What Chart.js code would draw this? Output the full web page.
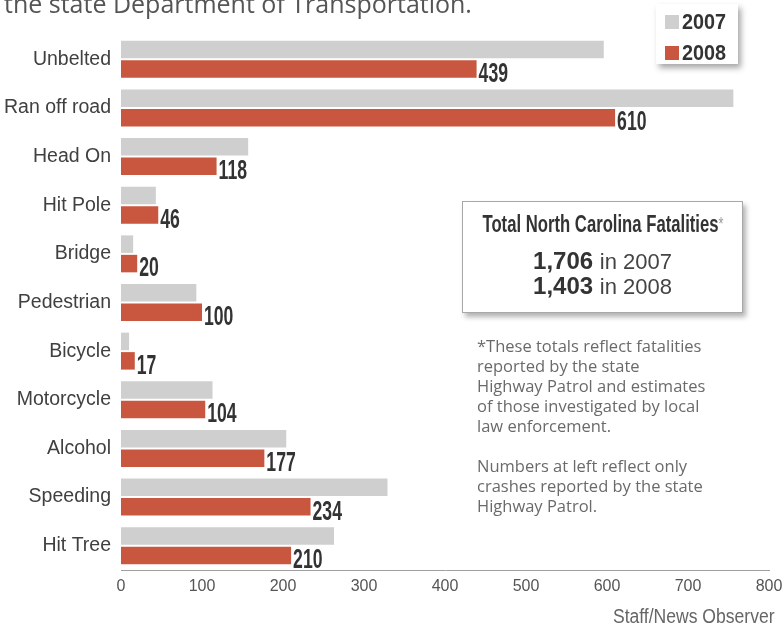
<!DOCTYPE html>
<html>
<head>
<meta charset="utf-8">
<script src="https://cdn.jsdelivr.net/npm/chart.js@4/dist/chart.umd.min.js"></script>
<style>
  html, body { margin: 0; padding: 0; background: #fff; }
  #wrap { position: relative; width: 783px; height: 627px; overflow: hidden; background: #fff; }
  #c { position: absolute; left: 0; top: 0; }
  .ls { font-family: 'Liberation Sans', Arial, sans-serif; }
  #intro { position: absolute; left: 4px; top: -12px; font-family: 'Open Sans', sans-serif; font-size: 25px; line-height: 30px; color: #555; white-space: nowrap; }
  #legend { position: absolute; left: 656px; top: 4px; width: 82px; height: 60px; background: #fff; box-shadow: 3px 4px 6px rgba(0,0,0,0.35); }
  .lg-item { position: absolute; left: 9px; height: 20px; display: flex; align-items: center; font-weight: bold; font-size: 22px; color: #333; }
  .lg-sw { width: 14px; height: 14px; margin-right: 3px; }
  .lg-tx { display: inline-block; transform: scaleX(0.9); transform-origin: left center; }
  #total { position: absolute; left: 462px; top: 201px; width: 279px; height: 110px; border: 1px solid #a8a8a8; background: #fff; box-shadow: 3px 4px 5px rgba(0,0,0,0.3); }
  .tl { position: absolute; left: 50%; white-space: nowrap; color: #333; }
  #notes { position: absolute; left: 477px; top: 336px; font-family: 'Open Sans', sans-serif; font-size: 16.5px; line-height: 20px; color: #6a6a6a; white-space: nowrap; }
  #credit { position: absolute; right: 8px; top: 605px; font-size: 19.5px; line-height: 22px; color: #666; white-space: nowrap; transform: scaleX(0.9); transform-origin: right center; }
</style>
</head>
<body>
<div id="wrap">
  <canvas id="c" width="783" height="627"></canvas>
  <div id="intro">the state Department of Transportation.</div>
  <div id="legend"></div>
  <div id="total">
    <div class="tl ls" style="top:9px;font-size:23.5px;line-height:26px;font-weight:bold;transform:translateX(-50%) scaleX(0.71);">Total North Carolina Fatalities<span style="color:#9a9a9a;font-weight:normal;font-size:18px;vertical-align:top;">*</span></div>
    <div class="tl ls" style="top:45px;font-size:24px;line-height:28px;transform:translateX(-50%);"><b>1,706</b> <span style="font-size:22px;color:#444;">in 2007</span></div>
    <div class="tl ls" style="top:70px;font-size:24px;line-height:28px;transform:translateX(-50%);"><b>1,403</b> <span style="font-size:22px;color:#444;">in 2008</span></div>
  </div>
  <div id="notes">*These totals reflect fatalities<br>reported by the state<br>Highway Patrol and estimates<br>of those investigated by local<br>law enforcement.<br><br>Numbers at left reflect only<br>crashes reported by the state<br>Highway Patrol.</div>
  <div id="credit" class="ls">Staff/News Observer</div>
</div>
<script>
// ---- Data ----
const categories = ['Unbelted', 'Ran off road', 'Head On', 'Hit Pole', 'Bridge', 'Pedestrian', 'Bicycle', 'Motorcycle', 'Alcohol', 'Speeding', 'Hit Tree'];
const values2007 = [596, 756, 157, 43, 15, 93, 10, 113, 204, 329, 263];
const values2008 = [439, 610, 118, 46, 20, 100, 17, 104, 177, 234, 210];
const seriesLabels = ['2007', '2008'];
const xTickValues = [0, 100, 200, 300, 400, 500, 600, 700, 800];

const GRAY = '#cfcfcf';
const RED = '#c9573f';
const FONT = "'Liberation Sans', Arial, sans-serif";

const valueLabels = {
  id: 'valueLabels',
  afterDatasetsDraw(chart) {
    const ctx = chart.ctx;
    const meta = chart.getDatasetMeta(1);
    const data = chart.data.datasets[1].data;
    ctx.save();
    ctx.fillStyle = '#333';
    ctx.font = 'bold 28px ' + FONT;
    ctx.textAlign = 'left';
    ctx.textBaseline = 'alphabetic';
    meta.data.forEach((bar, i) => {
      const p = bar.getProps(['x', 'y', 'height'], true);
      ctx.save();
      ctx.translate(p.x + 2, p.y + p.height / 2 + 4);
      ctx.scale(0.63, 1);
      ctx.fillText(String(data[i]), 0, 0);
      ctx.restore();
    });
    ctx.restore();
  }
};

const chart = new Chart(document.getElementById('c'), {
  type: 'bar',
  data: {
    labels: categories,
    datasets: [
      { label: seriesLabels[0], data: values2007, backgroundColor: GRAY },
      { label: seriesLabels[1], data: values2008, backgroundColor: RED }
    ]
  },
  options: {
    indexAxis: 'y',
    responsive: false,
    animation: false,
    devicePixelRatio: 1,
    categoryPercentage: 0.8,
    barPercentage: 0.9,
    layout: { padding: { top: 35, right: 14, bottom: 27, left: 0 } },
    plugins: { legend: { display: false }, tooltip: { enabled: false } },
    scales: {
      x: {
        min: 0, max: 800,
        afterBuildTicks(scale) { scale.ticks = xTickValues.map(v => ({ value: v })); },
        afterFit(scale) { scale.height = 30; scale.paddingRight = 0; scale.paddingLeft = 0; },
        grid: { display: false, drawTicks: false },
        border: { display: true, color: '#a0a0a0', width: 1 },
        ticks: { color: '#555', padding: 7, font: { family: FONT, size: 16 } }
      },
      y: {
        afterFit(scale) { scale.width = 121; },
        grid: { display: false, drawTicks: false },
        border: { display: false },
        ticks: { color: '#404040', padding: 10, font: { family: FONT, size: 19.5 } }
      }
    }
  },
  plugins: [valueLabels]
});

// HTML legend built from datasets
const lg = document.getElementById('legend');
chart.data.datasets.forEach((ds, i) => {
  const item = document.createElement('div');
  item.className = 'lg-item ls';
  item.style.top = (8 + i * 31) + 'px';
  const sw = document.createElement('span');
  sw.className = 'lg-sw';
  sw.style.background = ds.backgroundColor;
  const t = document.createElement('span');
  t.className = 'lg-tx';
  t.textContent = ds.label;
  item.appendChild(sw); item.appendChild(t);
  lg.appendChild(item);
});
</script>
</body>
</html>
